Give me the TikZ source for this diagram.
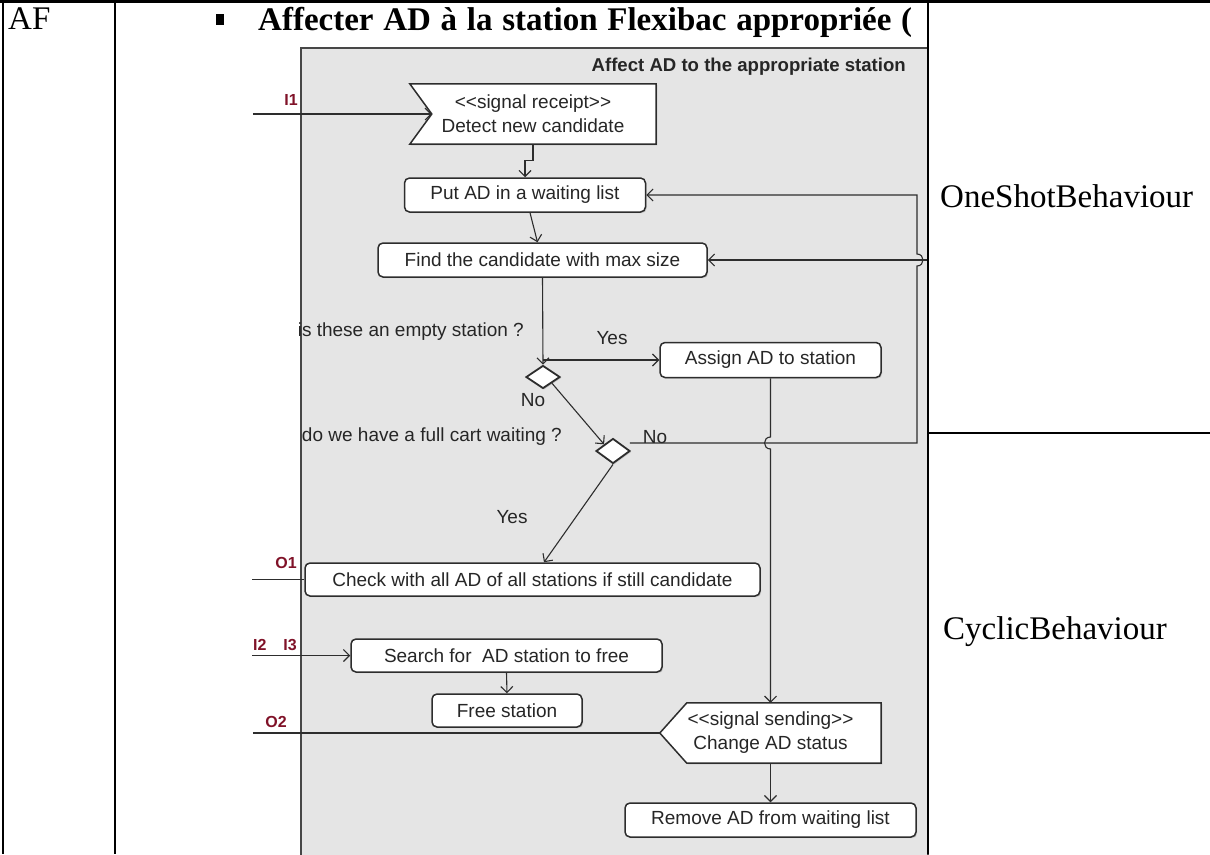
\documentclass[tikz,border=0pt]{standalone}
\usepackage{fontspec}
\setmainfont{Liberation Serif}
\newfontfamily\dsans{Liberation Sans}
\usetikzlibrary{shapes.geometric,arrows.meta,calc,shadows}
\definecolor{panel}{RGB}{229,229,229}
\definecolor{ink}{RGB}{45,45,45}
\definecolor{portred}{RGB}{128,18,40}
\pgfdeclarelayer{back}
\pgfdeclarelayer{mid}
\pgfsetlayers{back,mid,main}

\begin{document}
\begin{tikzpicture}[x=1pt,y=-1pt,
  rule/.style={line width=2.4pt, black},
  cell/.style={font=\fontsize{33}{38}\selectfont, inner sep=0pt},
  dtext/.style={font=\dsans\fontsize{19}{24}\selectfont, inner sep=0pt, text=black!85},
  softshadow/.style={drop shadow={shadow xshift=1.2pt, shadow yshift=-1.2pt, fill=black!35}},
  act/.style={dtext, draw=ink, line width=1.5pt, fill=white, rounded corners=5pt, softshadow},
  dec/.style={diamond, draw=ink, line width=1.8pt, fill=white, inner sep=0pt,
              minimum width=34pt, minimum height=23pt, softshadow},
  sig/.style={draw=ink, line width=1.5pt, fill=white, softshadow},
  conn/.style={draw=ink, line width=1.1pt},
  arr/.style={conn, -{Straight Barb[length=6pt,width=12pt]}},
  port/.style={font=\dsans\bfseries\fontsize{16}{18}\selectfont, text=portred, inner sep=0pt},
]
\useasboundingbox (0,0) rectangle (1210,854);

% activity panel
\begin{pgfonlayer}{back}
  \draw[fill=panel, draw=black!72, line width=2pt] (301,48) rectangle (928,872);
\end{pgfonlayer}
\node[dtext, font=\dsans\bfseries\fontsize{18.6}{22}\selectfont, anchor=east] (title) at (906,67)
  {Affect AD to the appropriate station};

% actions
\node[dtext, minimum width=246pt, minimum height=60pt, align=center] (detect) at (533,114)
  {{<}{<}signal receipt{>}{>}\\Detect new candidate};
\coordinate (detectin) at ($(detect.west)+(22,0)$);
\begin{pgfonlayer}{mid}
  \draw[sig] (detect.north west) -- (detect.north east) -- (detect.south east)
    -- (detect.south west) -- (detectin) -- cycle;
\end{pgfonlayer}

\node[act, minimum width=241pt, minimum height=34pt] (put) at (525,195) {Put AD in a waiting list};
\node[act, minimum width=329pt, minimum height=34pt] (find) at (542.5,260) {Find the candidate with max size};
\node[dec] (d1) at (543,377) {};
\node[act, minimum width=221pt, minimum height=35pt] (assign) at (770.5,360) {Assign AD to station};
\node[dec, minimum height=25pt] (d2) at (613,451) {};
\node[act, minimum width=455pt, minimum height=33pt] (check) at (532.5,579.5)
  {Check with all AD of all stations if still candidate};
\node[act, minimum width=311pt, minimum height=33pt] (search) at (506.5,655.5) {Search for\ \ AD station to free};
\node[act, minimum width=150pt, minimum height=33pt] (free) at (507,710.5) {Free station};

\node[dtext, minimum width=221pt, minimum height=60pt, align=center] (change) at (770.5,733)
  {{<}{<}signal sending{>}{>}\\Change AD status};
\begin{pgfonlayer}{mid}
  \draw[sig] ($(change.north west)+(27,0)$) -- (change.north east) -- (change.south east)
    -- ($(change.south west)+(27,0)$) -- (change.west) -- cycle;
\end{pgfonlayer}
\node[act, minimum width=291pt, minimum height=34pt] (remove) at (770.5,820) {Remove AD from waiting list};

% guards and questions
\node[dtext, anchor=east] (q1) at (524,332) {is these an empty station ?};
\node[dtext] (yes1) at (612,338) {Yes};
\node[dtext] (no1) at (533,400) {No};
\node[dtext, anchor=east] (q2) at (562,437) {do we have a full cart waiting ?};
\node[dtext] (no2) at (655,437) {No};
\node[dtext] (yes2) at (512,517) {Yes};

% ports
\node[port] (lI1) at (291,100) {I1};
\node[port] (lI23) at (275,645) {I2\hspace{17pt}I3};
\node[port] (lO1) at (286,563) {O1};
\node[port] (lO2) at (276,722) {O2};

% flows
\coordinate (i1) at ($(detect.west)+(-157,0)$);
\draw[arr] (i1) -- (detectin);
\draw[arr] (detect.south) -- ++(0,16) -| (put.north);
\draw[arr] ($(put.south)+(5,0)$) -- ($(find.north)+(-5,0)$);
\draw[arr] (find.south) -- (d1.north);
\coordinate (fork) at (d1.north |- assign.west);
\draw[arr] (fork) -- (assign.west);
\draw[arr] (d1.south east) -- (d2.north west);

\coordinate (noout) at ($(d2.east)+(-1,-8)$);
\coordinate (rail) at (917,443);
\coordinate (hopc) at (rail |- find.east);
\draw[arr] (noout) -- (rail) -- ($(hopc)+(0,6)$) .. controls +(8,0) and +(8,0) .. ($(hopc)+(0,-6)$)
  -- (rail |- put.east) -- (put.east);
\coordinate (findsrc) at ($(hopc)+(11,0)$);
\draw[arr] (findsrc) -- (find.east);

\coordinate (hop2) at (assign.south |- noout);
\draw[arr] (assign.south) -- ($(hop2)+(0,-6)$) .. controls +(-8,0) and +(-8,0) .. ($(hop2)+(0,6)$)
  -- (change.north);

\draw[arr] (d2.south) -- ($(check.north)+(11.5,0)$);

\coordinate (o1) at ($(check.west)+(-52,0)$);
\draw[conn] (o1) -- (check.west);
\coordinate (i23) at ($(search.west)+(-98,0)$);
\draw[arr] (i23) -- (search.west);
\draw[arr] (search.south) -- (free.north);
\coordinate (o2) at ($(change.west)+(-407,0)$);
\draw[conn] (o2) -- (change.west);
\draw[arr] (change.south) -- (remove.north);

% table
\node[cell, anchor=base west] (af) at (8,29) {AF};
\node[fill=black, inner sep=0pt, minimum width=8pt, minimum height=11pt] (bullet) at (220,19) {};
\node[cell, anchor=base west, font=\bfseries\fontsize{33}{38}\selectfont] (head) at (258,30)
  {\makebox[654pt][s]{Affecter AD à la station Flexibac appropriée (}};
\node[cell, anchor=base west] (one) at (940,207) {OneShotBehaviour};
\node[cell, anchor=base west] (cyc) at (943,639) {CyclicBehaviour};

\draw[rule] (0,1.5) -- (1210,1.5);
\draw[rule] (3,0) -- (3,854);
\draw[rule] (115,0) -- (115,854);
\draw[rule] (928,0) -- (928,854);
\draw[rule] (928,433) -- (1210,433);
\end{tikzpicture}
\end{document}
